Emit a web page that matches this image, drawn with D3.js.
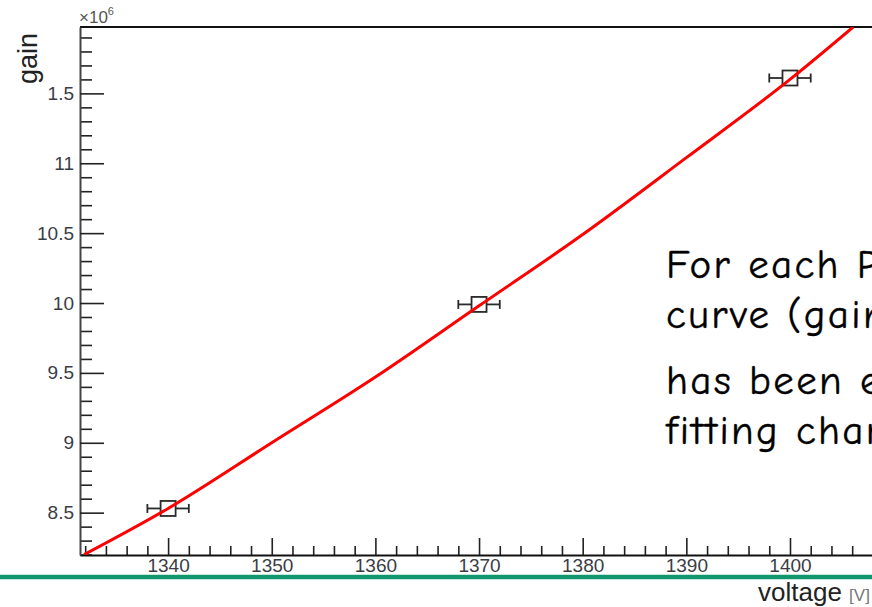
<!DOCTYPE html>
<html>
<head>
<meta charset="utf-8">
<script src="https://cdn.jsdelivr.net/npm/d3@7"></script>
<style>
  html, body { margin: 0; padding: 0; background: #fff; overflow: hidden; }
  svg { display: block; }
</style>
</head>
<body>
<svg id="chart" width="872" height="607"></svg>
<script>
// PMT gain measurements (gain in units of 1e6)
const voltage = [1340, 1370, 1400];
const gain = [8.53, 9.99, 11.61];
const voltageErr = [2, 2, 2];

// Fitted gain curve, sampled along the voltage range
const fitVoltage = [1331.9, 1340, 1350, 1360, 1370, 1380, 1390, 1400, 1406.1];
const fitGain = [8.20, 8.53, 9.00, 9.47, 9.98, 10.49, 11.04, 11.60, 11.975];

// Axis ticks
const xMajorTicks = [1340, 1350, 1360, 1370, 1380, 1390, 1400];
const yMajorTicks = [8.5, 9, 9.5, 10, 10.5, 11, 11.5];
const yTickLabels = ["8.5", "9", "9.5", "10", "10.5", "11", "1.5"];

// Slide text beside the plot
const noteLines = ["For each PMT the gain", "curve (gain vs voltage)", "has been evaluated by", "fitting charge spectra"];

const svg = d3.select("#chart");
const frame = { left: 80, top: 27, bottom: 555, right: 904 };

const x = d3.scaleLinear().domain([1331.5, 1411]).range([frame.left, frame.right]);
const y = d3.scaleLinear().domain([8.197, 11.975]).range([frame.bottom, frame.top]);

const labelFont = "'Liberation Sans', Arial, Helvetica, sans-serif";

// Frame top line
svg.append("line")
  .attr("x1", frame.left).attr("x2", frame.right)
  .attr("y1", frame.top).attr("y2", frame.top)
  .attr("stroke", "#111").attr("stroke-width", 2);

// Minor ticks (no labels)
const xMinor = d3.range(1332, 1411, 2).filter(v => v % 10 !== 0);
svg.append("g")
  .attr("transform", `translate(0,${frame.bottom})`)
  .call(d3.axisBottom(x).tickValues(xMinor).tickSize(-9).tickSizeOuter(0).tickFormat(""))
  .call(g => g.select(".domain").remove())
  .selectAll("line").attr("stroke", "#222").attr("stroke-width", 1.6);

const yMinor = d3.range(82, 120, 1).map(v => v / 10).filter(v => Math.round(v * 10) % 5 !== 0);
svg.append("g")
  .attr("transform", `translate(${frame.left},0)`)
  .call(d3.axisLeft(y).tickValues(yMinor).tickSize(-12).tickSizeOuter(0).tickFormat(""))
  .call(g => g.select(".domain").remove())
  .selectAll("line").attr("stroke", "#222").attr("stroke-width", 1.6);

// Major x axis
const xAxis = svg.append("g")
  .attr("transform", `translate(0,${frame.bottom})`)
  .call(d3.axisBottom(x).tickValues(xMajorTicks).tickSize(-17).tickSizeOuter(0).tickPadding(4).tickFormat(d3.format("d")));
xAxis.select(".domain").attr("stroke", "#111").attr("stroke-width", 2);
xAxis.selectAll(".tick line").attr("stroke", "#222").attr("stroke-width", 1.6);
xAxis.selectAll(".tick text")
  .attr("font-family", labelFont).attr("font-size", 19).attr("fill", "#3a3d45");

// Major y axis
const yAxis = svg.append("g")
  .attr("transform", `translate(${frame.left},0)`)
  .call(d3.axisLeft(y).tickValues(yMajorTicks).tickSize(-24).tickSizeOuter(0).tickPadding(6)
    .tickFormat((d, i) => yTickLabels[i]));
yAxis.select(".domain").attr("stroke", "#444").attr("stroke-width", 2);
yAxis.selectAll(".tick line").attr("stroke", "#222").attr("stroke-width", 1.6);
yAxis.selectAll(".tick text")
  .attr("font-family", labelFont).attr("font-size", 19).attr("fill", "#3a3d45");

// Exponent label
const expo = svg.append("text")
  .attr("x", 79).attr("y", 23)
  .attr("font-family", labelFont).attr("font-size", 17).attr("fill", "#555");
expo.append("tspan").text("×10");
expo.append("tspan").attr("font-size", 11).attr("dy", -8).text("6");

// Axis titles
svg.append("text")
  .attr("transform", "translate(37,33) rotate(-90)")
  .attr("text-anchor", "end")
  .attr("font-family", labelFont).attr("font-size", 27).attr("fill", "#222")
  .text("gain");

const xTitle = svg.append("text")
  .attr("x", 758).attr("y", 601)
  .attr("font-family", labelFont).attr("font-size", 26).attr("fill", "#222");
xTitle.append("tspan").text("voltage ");
xTitle.append("tspan").attr("font-size", 17).attr("fill", "#777").text("[V]");

// Data points: horizontal error bars with open square markers
const pts = voltage.map((v, i) => ({ v, g: gain[i], e: voltageErr[i] }));
const half = 7.5;
const pg = svg.append("g").attr("stroke", "#2a2a2a").attr("stroke-width", 1.8).attr("fill", "none");
pts.forEach(p => {
  const cx = x(p.v), cy = y(p.g);
  const xl = x(p.v - p.e), xr = x(p.v + p.e);
  pg.append("line").attr("x1", xl).attr("x2", cx - half).attr("y1", cy).attr("y2", cy);
  pg.append("line").attr("x1", cx + half).attr("x2", xr).attr("y1", cy).attr("y2", cy);
  pg.append("line").attr("x1", xl).attr("x2", xl).attr("y1", cy - 4.5).attr("y2", cy + 4.5);
  pg.append("line").attr("x1", xr).attr("x2", xr).attr("y1", cy - 4.5).attr("y2", cy + 4.5);
  pg.append("rect").attr("x", cx - half).attr("y", cy - half)
    .attr("width", 2 * half).attr("height", 2 * half);
});

// Fit curve, clipped to the frame
svg.append("clipPath").attr("id", "plotClip")
  .append("rect").attr("x", frame.left).attr("y", frame.top)
  .attr("width", frame.right - frame.left).attr("height", frame.bottom - frame.top);

const fit = fitVoltage.map((v, i) => [v, fitGain[i]]);
svg.append("path")
  .datum(fit)
  .attr("clip-path", "url(#plotClip)")
  .attr("fill", "none").attr("stroke", "#f00").attr("stroke-width", 3)
  .attr("d", d3.line().x(d => x(d[0])).y(d => y(d[1])).curve(d3.curveMonotoneX));

// Slide text
const noteY = [278, 328, 394, 444];
svg.append("g")
  .selectAll("text")
  .data(noteLines)
  .join("text")
  .attr("x", 666).attr("y", (d, i) => noteY[i])
  .attr("font-family", "'Comic Sans MS', 'Comic Neue', 'DejaVu Sans', sans-serif")
  .attr("font-size", 41).attr("letter-spacing", 2.3).attr("fill", "#000")
  .attr("stroke", "#000").attr("stroke-width", 0.4)
  .text(d => d);

// Slide divider
svg.append("line")
  .attr("x1", 0).attr("x2", 872).attr("y1", 577).attr("y2", 577)
  .attr("stroke", "#12966e").attr("stroke-width", 4.5);
</script>
</body>
</html>
